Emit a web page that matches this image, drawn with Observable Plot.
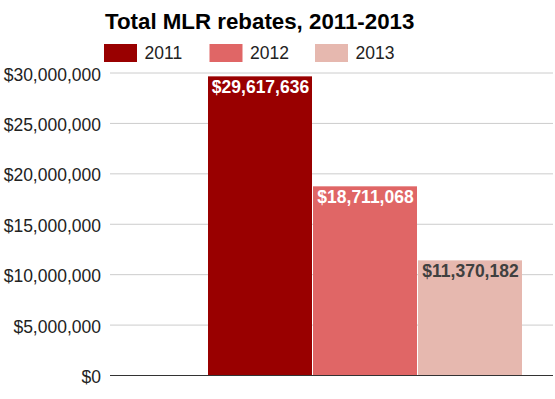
<!DOCTYPE html>
<html>
<head>
<meta charset="utf-8">
<script src="https://cdn.jsdelivr.net/npm/d3@7"></script>
<script src="https://cdn.jsdelivr.net/npm/@observablehq/plot@0.6"></script>
<style>
  html, body { margin: 0; padding: 0; background: #fff; }
  body { width: 555px; height: 399px; overflow: hidden; font-family: "Liberation Sans", Arial, sans-serif; }
  #header { display: block; }
  #chart svg { display: block; overflow: visible; }
</style>
</head>
<body>
<svg id="header" width="555" height="64"></svg>
<div id="chart"></div>
<script>
const title = "Total MLR rebates, 2011-2013";
const years = ["2011", "2012", "2013"];
const rebates = [29617636, 18711068, 11370182];
const colors = ["#990000", "#e06666", "#e6b8af"];
const labelColors = ["#ffffff", "#ffffff", "#404040"];
const yTicks = [0, 5000000, 10000000, 15000000, 20000000, 25000000, 30000000];

const data = years.map((y, i) => ({year: y, value: rebates[i], labelColor: labelColors[i]}));
const fmt = d3.format("$,");

// Header: title + legend
const header = d3.select("#header");
header.append("text")
  .attr("x", 105).attr("y", 29)
  .attr("font-family", "'Liberation Sans', Arial, sans-serif")
  .attr("font-weight", "bold").attr("font-size", "22.3px").attr("fill", "#000")
  .text(title);
years.forEach((y, i) => {
  const x0 = 104 + 105.5 * i;
  header.append("rect").attr("x", x0).attr("y", 44).attr("width", 33).attr("height", 18).attr("fill", colors[i]);
  header.append("text").attr("x", x0 + 40.5).attr("y", 59.3)
    .attr("font-family", "'Liberation Sans', Arial, sans-serif")
    .attr("font-size", "17.5px").attr("fill", "#222")
    .text(y);
});

const chart = Plot.plot({
  width: 555,
  height: 335,
  marginLeft: 110,
  marginRight: 2,
  marginTop: 0,
  marginBottom: 0,
  style: {fontFamily: "'Liberation Sans', Arial, sans-serif", fontSize: "17.5px", color: "#222", background: "#fff"},
  x: {type: "band", domain: years, range: [208, 523], padding: 0, axis: null},
  y: {domain: [0, 30000000], range: [311, 8.5], axis: null, label: null},
  color: {domain: years, range: colors},
  marks: [
    Plot.gridY(yTicks, {stroke: "#cccccc", strokeOpacity: 1}),
    Plot.axisY(yTicks, {tickSize: 0, tickPadding: 9.5, tickFormat: fmt, dy: 2, fill: "#222", fontSize: "17.5px", label: null}),
    Plot.barY(data, {x: "year", y: "value", fill: "year", insetRight: 1}),
    Plot.ruleY([0], {stroke: "#333", strokeWidth: 1}),
    Plot.text(data, {x: "year", y: "value", text: d => fmt(d.value), fill: "labelColor",
      fontWeight: "bold", fontSize: "17.5px", lineAnchor: "top", dy: 4.2, dx: -0.5})
  ]
});
document.getElementById("chart").appendChild(chart);
</script>
</body>
</html>
